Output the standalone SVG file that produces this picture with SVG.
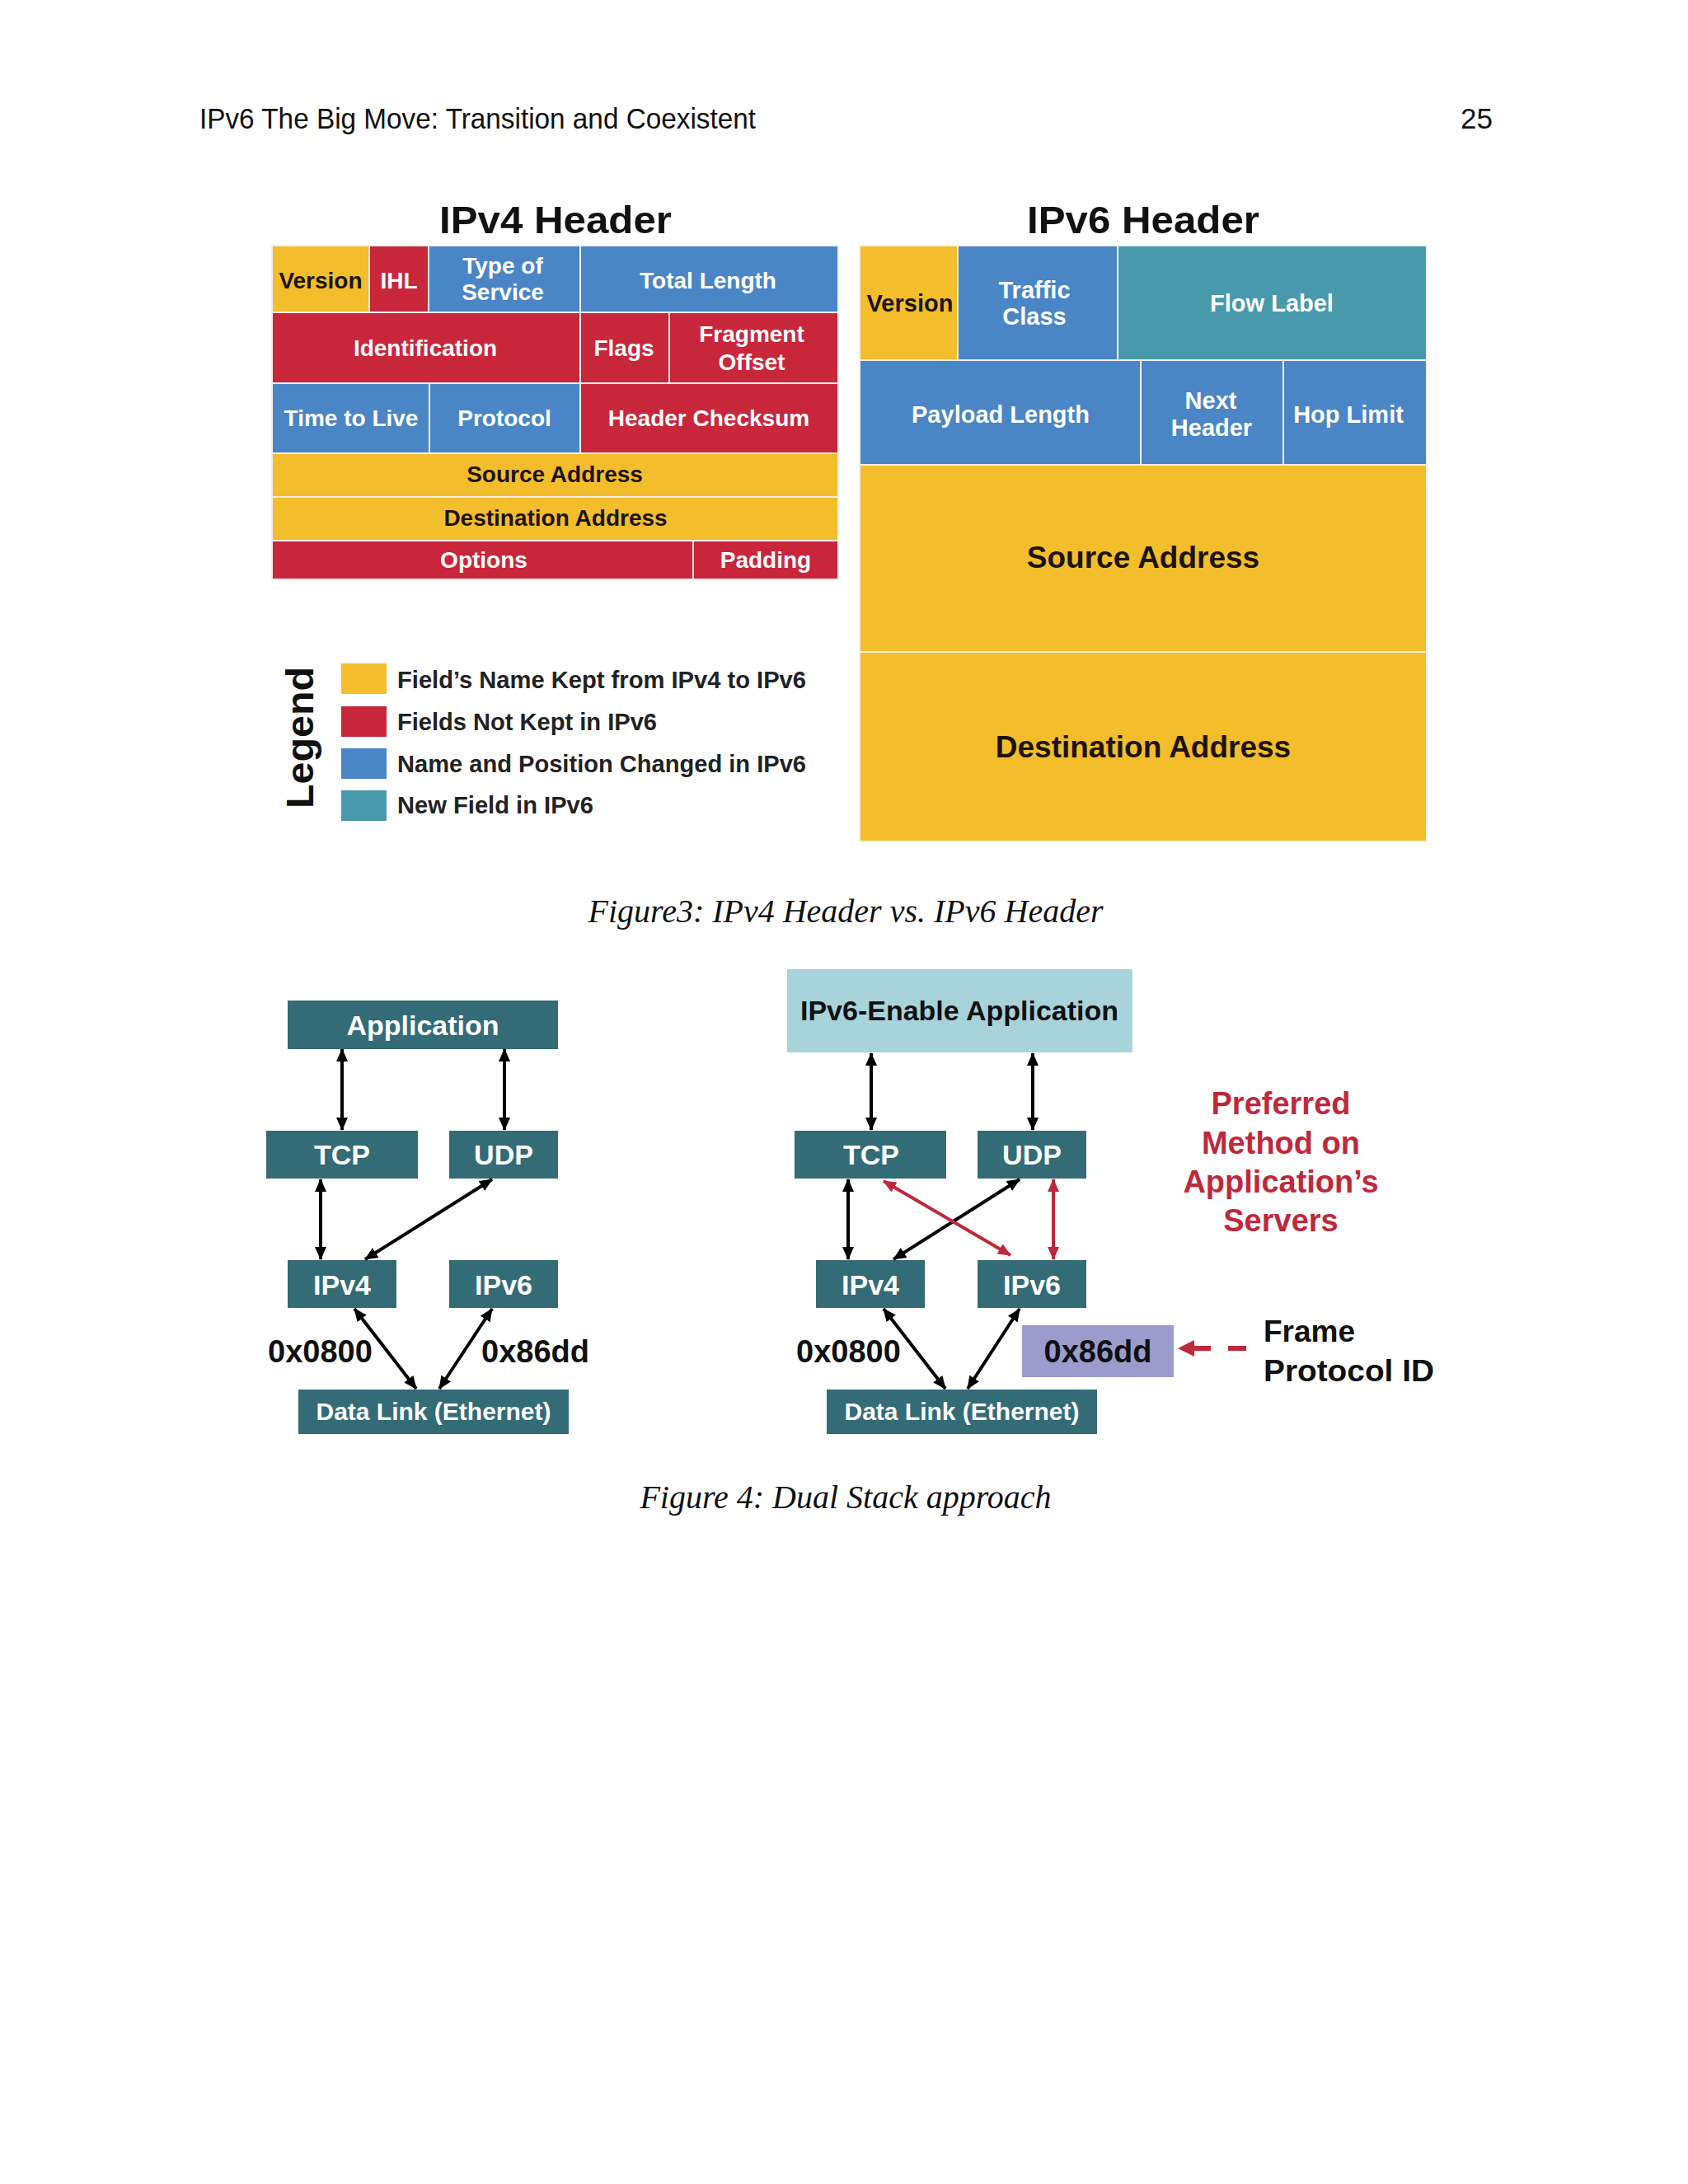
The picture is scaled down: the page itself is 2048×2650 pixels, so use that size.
<svg xmlns="http://www.w3.org/2000/svg" width="2048" height="2650" viewBox="0 0 2048 2650">
<defs>
<style>
.cell{stroke:#f4eeee;stroke-width:2}
.y{fill:#F3BD2C}.r{fill:#C8273B}.b{fill:#4A85C6}.t{fill:#4899AB}
.w{font-family:"Liberation Sans",Arial,sans-serif;font-weight:bold;fill:#fff;text-anchor:middle;font-size:28px}
.d{font-family:"Liberation Sans",Arial,sans-serif;font-weight:bold;fill:#1c1410;text-anchor:middle;font-size:28px}
.w6{font-size:29px}
.big{font-size:37px}
.ttl{font-family:"Liberation Sans",Arial,sans-serif;font-weight:bold;fill:#111;text-anchor:middle;font-size:47px}
.lg{font-family:"Liberation Sans",Arial,sans-serif;font-weight:bold;fill:#222;font-size:29px}
.cap{font-family:"Liberation Serif","Times New Roman",serif;font-style:italic;fill:#111;font-size:40px;text-anchor:middle}
.box{fill:#336B77}
.bt{font-family:"Liberation Sans",Arial,sans-serif;font-weight:bold;fill:#fff;text-anchor:middle;font-size:34px}
.dl{font-size:30px}
.hex{font-family:"Liberation Sans",Arial,sans-serif;font-weight:bold;fill:#111;font-size:38px}
.red{font-family:"Liberation Sans",Arial,sans-serif;font-weight:bold;fill:#C0283A;text-anchor:middle;font-size:38px}
.fr{font-family:"Liberation Sans",Arial,sans-serif;font-weight:bold;fill:#111;font-size:37px}
.k{stroke:#000;stroke-width:4;fill:none;marker-start:url(#ak);marker-end:url(#ak)}
.kr{stroke:#C0283A;stroke-width:4;fill:none;marker-start:url(#ar);marker-end:url(#ar)}
</style>
<marker id="ak" viewBox="0 0 16 14" refX="15" refY="7" markerWidth="16" markerHeight="14" markerUnits="userSpaceOnUse" orient="auto-start-reverse"><path d="M0,0 L16,7 L0,14 z" fill="#000"/></marker>
<marker id="ar" viewBox="0 0 16 14" refX="15" refY="7" markerWidth="16" markerHeight="14" markerUnits="userSpaceOnUse" orient="auto-start-reverse"><path d="M0,0 L16,7 L0,14 z" fill="#C0283A"/></marker>
<marker id="arr" viewBox="0 0 20 20" refX="19" refY="10" markerWidth="20" markerHeight="20" markerUnits="userSpaceOnUse" orient="auto"><path d="M0,0 L20,10 L0,20 z" fill="#C0283A"/></marker>
</defs>
<rect width="2048" height="2650" fill="#fff"/>

<g id="page-header">
<text x="242" y="156" font-family="'Liberation Sans',Arial,sans-serif" font-size="35" fill="#111" textLength="675" lengthAdjust="spacingAndGlyphs">IPv6 The Big Move: Transition and Coexistent</text>
<text x="1811" y="156" font-family="'Liberation Sans',Arial,sans-serif" font-size="35" fill="#111" text-anchor="end">25</text>
</g>

<g id="ipv4-header">
<text class="ttl" x="674" y="283" textLength="282" lengthAdjust="spacingAndGlyphs">IPv4 Header</text>
<rect class="cell y" x="330" y="298" width="118" height="81"/>
<rect class="cell r" x="448" y="298" width="72" height="81"/>
<rect class="cell b" x="520" y="298" width="184" height="81"/>
<rect class="cell b" x="704" y="298" width="313" height="81"/>
<rect class="cell r" x="330" y="379" width="374" height="86"/>
<rect class="cell r" x="704" y="379" width="108" height="86"/>
<rect class="cell r" x="812" y="379" width="205" height="86"/>
<rect class="cell b" x="330" y="465" width="191" height="85"/>
<rect class="cell b" x="521" y="465" width="183" height="85"/>
<rect class="cell r" x="704" y="465" width="313" height="85"/>
<rect class="cell y" x="330" y="550" width="687" height="53"/>
<rect class="cell y" x="330" y="603" width="687" height="53"/>
<rect class="cell r" x="330" y="656" width="511" height="47"/>
<rect class="cell r" x="841" y="656" width="176" height="47"/>
<text class="d" x="389" y="350">Version</text>
<text class="w" x="484" y="350">IHL</text>
<text class="w" x="610" y="332">Type of</text>
<text class="w" x="610" y="364">Service</text>
<text class="w" x="859" y="350">Total Length</text>
<text class="w" x="516" y="432">Identification</text>
<text class="w" x="757" y="432">Flags</text>
<text class="w" x="912" y="415">Fragment</text>
<text class="w" x="912" y="449">Offset</text>
<text class="w" x="426" y="517">Time to Live</text>
<text class="w" x="612" y="517">Protocol</text>
<text class="w" x="860" y="517">Header Checksum</text>
<text class="d" x="673" y="585">Source Address</text>
<text class="d" x="674" y="638">Destination Address</text>
<text class="w" x="587" y="689">Options</text>
<text class="w" x="929" y="689">Padding</text>
</g>

<g id="ipv6-header">
<text class="ttl" x="1387" y="283" textLength="282" lengthAdjust="spacingAndGlyphs">IPv6 Header</text>
<rect class="cell y" x="1043" y="298" width="119" height="139"/>
<rect class="cell b" x="1162" y="298" width="194" height="139"/>
<rect class="cell t" x="1356" y="298" width="375" height="139"/>
<rect class="cell b" x="1043" y="437" width="341" height="127"/>
<rect class="cell b" x="1384" y="437" width="173" height="127"/>
<rect class="cell b" x="1557" y="437" width="174" height="127"/>
<rect class="cell y" x="1043" y="564" width="688" height="227"/>
<rect class="cell y" x="1043" y="791" width="688" height="230"/>
<text class="d w6" x="1104" y="378">Version</text>
<text class="w w6" x="1255" y="362">Traffic</text>
<text class="w w6" x="1255" y="394">Class</text>
<text class="w w6" x="1543" y="378">Flow Label</text>
<text class="w w6" x="1214" y="513">Payload Length</text>
<text class="w w6" x="1469" y="496">Next</text>
<text class="w w6" x="1470" y="529">Header</text>
<text class="w w6" x="1636" y="513">Hop Limit</text>
<text class="d big" x="1387" y="689">Source Address</text>
<text class="d big" x="1387" y="919">Destination Address</text>
</g>

<g id="legend">
<text transform="translate(380,895) rotate(-90)" font-family="'Liberation Sans',Arial,sans-serif" font-weight="bold" font-size="46" fill="#111" text-anchor="middle" textLength="172" lengthAdjust="spacingAndGlyphs">Legend</text>
<rect class="y" x="414" y="805" width="55" height="37"/>
<rect class="r" x="414" y="857" width="55" height="37"/>
<rect class="b" x="414" y="908" width="55" height="37"/>
<rect class="t" x="414" y="959" width="55" height="37"/>
<text class="lg" x="482" y="835" textLength="496" lengthAdjust="spacingAndGlyphs">Field’s Name Kept from IPv4 to IPv6</text>
<text class="lg" x="482" y="886" textLength="315" lengthAdjust="spacingAndGlyphs">Fields Not Kept in IPv6</text>
<text class="lg" x="482" y="937" textLength="496" lengthAdjust="spacingAndGlyphs">Name and Position Changed in IPv6</text>
<text class="lg" x="482" y="987" textLength="238" lengthAdjust="spacingAndGlyphs">New Field in IPv6</text>
</g>

<text id="caption-fig3" class="cap" x="1026" y="1119">Figure3: IPv4 Header vs. IPv6 Header</text>

<g id="left-application"><rect class="box" x="349" y="1214" width="328" height="59"/><text class="bt" x="513" y="1256">Application</text></g>
<g id="left-tcp"><rect class="box" x="323" y="1372" width="184" height="58"/><text class="bt" x="415" y="1413">TCP</text></g>
<g id="left-udp"><rect class="box" x="545" y="1372" width="132" height="58"/><text class="bt" x="611" y="1413">UDP</text></g>
<g id="left-ipv4"><rect class="box" x="349" y="1529" width="132" height="58"/><text class="bt" x="415" y="1571">IPv4</text></g>
<g id="left-ipv6"><rect class="box" x="545" y="1529" width="132" height="58"/><text class="bt" x="611" y="1571">IPv6</text></g>
<g id="left-datalink"><rect class="box" x="362" y="1686" width="328" height="54"/><text class="bt dl" x="526" y="1723">Data Link (Ethernet)</text></g>
<g id="left-labels">
<text class="hex" x="325" y="1653">0x0800</text>
<text class="hex" x="584" y="1653">0x86dd</text>
</g>

<g id="right-application"><rect x="955" y="1176" width="419" height="101" fill="#A9D3DB"/><text x="1164" y="1238" font-family="'Liberation Sans',Arial,sans-serif" font-weight="bold" font-size="34" fill="#111" text-anchor="middle">IPv6-Enable Application</text></g>
<g id="right-tcp"><rect class="box" x="964" y="1372" width="184" height="58"/><text class="bt" x="1057" y="1413">TCP</text></g>
<g id="right-udp"><rect class="box" x="1186" y="1372" width="132" height="58"/><text class="bt" x="1252" y="1413">UDP</text></g>
<g id="right-ipv4"><rect class="box" x="990" y="1529" width="132" height="58"/><text class="bt" x="1056" y="1571">IPv4</text></g>
<g id="right-ipv6"><rect class="box" x="1186" y="1529" width="132" height="58"/><text class="bt" x="1252" y="1571">IPv6</text></g>
<g id="right-datalink"><rect class="box" x="1003" y="1686" width="328" height="54"/><text class="bt dl" x="1167" y="1723">Data Link (Ethernet)</text></g>
<g id="right-86dd"><rect x="1240" y="1608" width="184" height="63" fill="#9B9BCD"/><text class="hex" x="1332" y="1653" text-anchor="middle">0x86dd</text></g>
<g id="right-labels">
<text class="hex" x="966" y="1653">0x0800</text>
<text class="red" x="1554" y="1352">Preferred</text>
<text class="red" x="1554" y="1400">Method on</text>
<text class="red" x="1554" y="1447">Application’s</text>
<text class="red" x="1554" y="1494">Servers</text>
<text class="fr" x="1533" y="1628">Frame</text>
<text class="fr" x="1533" y="1676" textLength="207" lengthAdjust="spacingAndGlyphs">Protocol ID</text>
</g>

<g id="connectors">
<line class="k" x1="415" y1="1273" x2="415" y2="1371"/>
<line class="k" x1="612" y1="1273" x2="612" y2="1371"/>
<line class="k" x1="389" y1="1431" x2="389" y2="1528"/>
<line class="k" x1="597" y1="1431" x2="443" y2="1528"/>
<line class="k" x1="430" y1="1588" x2="505" y2="1685"/>
<line class="k" x1="597" y1="1588" x2="533" y2="1685"/>
<line class="k" x1="1057" y1="1278" x2="1057" y2="1371"/>
<line class="k" x1="1253" y1="1278" x2="1253" y2="1371"/>
<line class="k" x1="1029" y1="1431" x2="1029" y2="1528"/>
<line class="k" x1="1237" y1="1431" x2="1084" y2="1528"/>
<line class="k" x1="1072" y1="1588" x2="1147" y2="1685"/>
<line class="k" x1="1237" y1="1588" x2="1174" y2="1685"/>
<line class="kr" x1="1072" y1="1433" x2="1226" y2="1523"/>
<line class="kr" x1="1278" y1="1431" x2="1278" y2="1528"/>
<line x1="1512" y1="1636" x2="1430" y2="1636" stroke="#C0283A" stroke-width="6" stroke-dasharray="22 21" marker-end="url(#arr)"/>
</g>

<text id="caption-fig4" class="cap" x="1026" y="1830">Figure 4: Dual Stack approach</text>
</svg>
